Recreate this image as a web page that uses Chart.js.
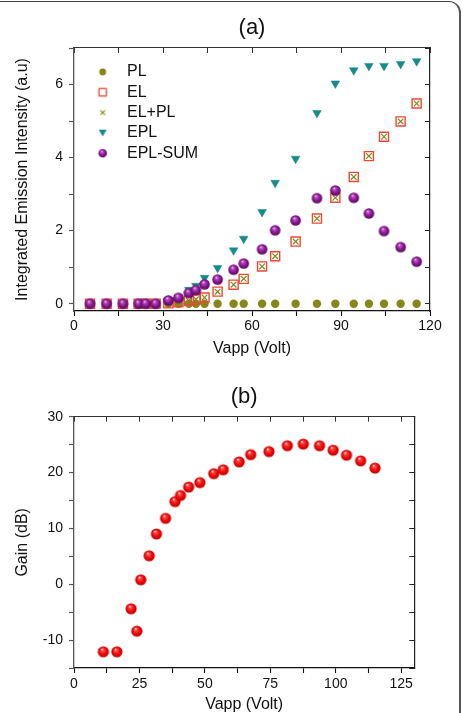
<!DOCTYPE html>
<html>
<head>
<meta charset="utf-8">
<script src="https://cdn.jsdelivr.net/npm/chart.js@4.4.0/dist/chart.umd.min.js"></script>
<style>
  body { margin: 0; background: #fff; }
  #wrap { position: relative; width: 463px; height: 713px; overflow: hidden; }
  .panel { position: absolute; left: 0; }
  #frame {
    position: absolute; left: -4px; top: 1px; width: 464.5px; height: 740px;
    box-sizing: border-box; border-top: 1.5px solid #444; border-right: 2px solid #555;
    border-top-right-radius: 12px;
  }
</style>
</head>
<body>
<div id="wrap">
  <canvas id="chartA" class="panel" style="top:0" width="463" height="362"></canvas>
  <canvas id="chartB" class="panel" style="top:362px" width="463" height="360"></canvas>
  <div id="frame"></div>
</div>
<script>
// (a) integrated emission intensity vs applied voltage
const vapp = [5.4, 11.0, 16.5, 21.8, 24.2, 27.5, 31.8, 35.2, 38.7, 41.1, 44.0, 48.4,
  53.8, 57.2, 63.4, 67.8, 74.7, 81.9, 88.1, 94.3, 99.4, 104.5, 110.1, 115.5];
const pl = [0, 0, 0, 0, 0, 0, 0, 0, 0, 0, 0, 0, 0, 0, 0, 0, 0, 0, 0, 0, 0, 0, 0, 0];
const el = [0, 0, 0, 0, 0, 0, 0.01, 0.04, 0.08, 0.12, 0.17, 0.33,
  0.52, 0.68, 1.02, 1.30, 1.70, 2.33, 2.90, 3.47, 4.04, 4.57, 4.99, 5.48];
const elPlusPl = [0, 0, 0, 0, 0, 0, 0.01, 0.04, 0.08, 0.12, 0.17, 0.33,
  0.52, 0.68, 1.02, 1.30, 1.70, 2.33, 2.90, 3.47, 4.04, 4.57, 4.99, 5.48];
const epl = [0, 0, 0, 0, 0, 0, 0.06, 0.17, 0.38, 0.49, 0.71, 0.98,
  1.46, 1.78, 2.51, 3.31, 3.97, 5.22, 6.03, 6.39, 6.51, 6.51, 6.56, 6.64];
const eplSum = [0, 0, 0, 0, 0, 0, 0.09, 0.16, 0.29, 0.37, 0.53, 0.66,
  0.93, 1.10, 1.49, 2.01, 2.28, 2.89, 3.10, 2.90, 2.47, 1.99, 1.55, 1.15];
const seriesNames = ['PL', 'EL', 'EL+PL', 'EPL', 'EPL-SUM'];

// (b) gain vs applied voltage
const gainVapp = [11.2, 16.4, 21.8, 24.0, 25.5, 28.7, 31.5, 35.0, 38.6, 40.7, 43.8, 48.1,
  53.4, 57.0, 63.1, 67.5, 74.5, 81.5, 87.6, 93.8, 99.0, 104.1, 109.5, 115.0];
const gainDb = [-12.1, -12.1, -4.4, -8.4, 0.8, 5.1, 9.0, 11.8, 14.8, 15.9, 17.4, 18.2,
  19.8, 20.5, 21.9, 23.2, 23.75, 24.8, 25.1, 24.8, 24.0, 23.1, 22.1, 20.8];

Chart.defaults.font.family = '"Liberation Sans", Arial, Helvetica, sans-serif';
Chart.defaults.color = '#111';
Chart.defaults.animation = false;

const OLIVE = '#86861a';
const RED = '#ea4a35';
const TEAL = '#178a8a';
const PURPLE_BALL = ['#ffe6ff', '#c050c8', '#8a1a92', '#56085c'];
const RED_BALL = ['#ffffff', '#ff4a4a', '#f50a0a', '#b80000'];

const pts = (xs, ys) => xs.map((x, i) => ({ x, y: ys[i] }));

function drawSphere(ctx, cx, cy, r, colors) {
  const g = ctx.createRadialGradient(cx - r * 0.25, cy - r * 0.45, r * 0.02, cx, cy, r);
  g.addColorStop(0, colors[0]);
  g.addColorStop(0.22, colors[1]);
  g.addColorStop(0.6, colors[2]);
  g.addColorStop(1, colors[3]);
  ctx.fillStyle = g;
  ctx.beginPath();
  ctx.arc(cx, cy, r, 0, Math.PI * 2);
  ctx.fill();
}

function sphereImage(r, colors) {
  const c = document.createElement('canvas');
  c.width = c.height = Math.ceil(r * 2 + 2);
  drawSphere(c.getContext('2d'), c.width / 2, c.height / 2, r, colors);
  return c;
}

const purpleBall = sphereImage(5.3, PURPLE_BALL);
const redBall = sphereImage(5.6, RED_BALL);

// legend icons, marker pushed right inside the image
const legendShift = 4;
function legendIcon(draw) {
  const c = document.createElement('canvas');
  c.width = 28;
  c.height = 16;
  draw(c.getContext('2d'), 14 + legendShift, 8);
  return c;
}
const legendIcons = [
  legendIcon((ctx, x, y) => {
    ctx.fillStyle = OLIVE;
    ctx.beginPath(); ctx.arc(x, y, 3.4, 0, Math.PI * 2); ctx.fill();
  }),
  legendIcon((ctx, x, y) => {
    ctx.strokeStyle = RED; ctx.lineWidth = 1.3;
    ctx.strokeRect(x - 3.7, y - 3.7, 7.4, 7.4);
  }),
  legendIcon((ctx, x, y) => {
    ctx.strokeStyle = OLIVE; ctx.lineWidth = 1.1;
    ctx.beginPath();
    ctx.moveTo(x - 2.4, y - 2.4); ctx.lineTo(x + 2.4, y + 2.4);
    ctx.moveTo(x + 2.4, y - 2.4); ctx.lineTo(x - 2.4, y + 2.4);
    ctx.stroke();
  }),
  legendIcon((ctx, x, y) => {
    ctx.fillStyle = TEAL;
    ctx.beginPath();
    ctx.moveTo(x - 4, y - 3.2); ctx.lineTo(x + 4, y - 3.2); ctx.lineTo(x, y + 3.6);
    ctx.closePath(); ctx.fill();
  }),
  legendIcon((ctx, x, y) => drawSphere(ctx, x, y, 4.3, PURPLE_BALL)),
];

function frameScales(c) {
  const tickFont = { size: 14 };
  return {
    x: {
      type: 'linear', position: 'bottom', min: c.x[0], max: c.x[1],
      border: { color: '#111', width: 1.3 },
      grid: { drawOnChartArea: false, tickLength: 5, tickColor: '#111', tickWidth: 1.1 },
      ticks: {
        stepSize: c.x[2], includeBounds: false, autoSkip: false, maxRotation: 0,
        padding: c.xPad, font: tickFont, color: '#111',
        callback: (v) => (v % c.x[3] === 0 ? v : ''),
      },
      title: { display: true, text: 'Vapp (Volt)', font: { size: 16 }, color: '#111',
        padding: { top: 0, bottom: c.xTitlePad } },
      afterFit: (s) => { s.height = c.bottom; },
    },
    y: {
      type: 'linear', position: 'left', min: c.y[0], max: c.y[1],
      border: { color: '#555', width: 1.3 },
      grid: { drawOnChartArea: false, tickLength: 5, tickColor: '#555', tickWidth: 1.1 },
      ticks: {
        stepSize: c.y[2], includeBounds: false, autoSkip: false,
        padding: 6, font: tickFont, color: '#111',
        callback: (v) => (v % c.y[3] === 0 ? v : ''),
      },
      title: { display: true, text: c.yTitle, font: { size: 16 }, color: '#111',
        padding: { top: c.yTitlePad, bottom: 0 } },
      afterFit: (s) => { s.width = 74; },
    },
    x2: {
      type: 'linear', position: 'top', min: c.x[0], max: c.x[1],
      border: { color: '#333', width: 1.1 },
      grid: { drawOnChartArea: false, tickLength: -5, tickColor: '#333', tickWidth: 1 },
      ticks: { display: false, stepSize: c.x[2], includeBounds: false },
      afterFit: (s) => { s.height = c.top; },
    },
    y2: {
      type: 'linear', position: 'right', min: c.y[0], max: c.y[1],
      border: { color: '#222', width: 1.2 },
      grid: { drawOnChartArea: false, tickLength: -5, tickColor: '#222', tickWidth: 1 },
      ticks: { display: false, stepSize: c.y[2], includeBounds: false },
      afterFit: (s) => { s.width = c.right; },
    },
  };
}

new Chart(document.getElementById('chartA'), {
  type: 'scatter',
  data: {
    datasets: [
      { label: 'PL', data: pts(vapp, pl), pointStyle: 'circle', pointRadius: 4.2,
        backgroundColor: OLIVE, borderColor: OLIVE, borderWidth: 0, order: 5 },
      { label: 'EL', data: pts(vapp, el), pointStyle: 'rect', pointRadius: 6.4,
        backgroundColor: 'rgba(0,0,0,0)', borderColor: RED, borderWidth: 1.4, order: 4 },
      { label: 'EL+PL', data: pts(vapp, elPlusPl), pointStyle: 'crossRot', pointRadius: 4,
        borderColor: OLIVE, borderWidth: 1.2, order: 3 },
      { label: 'EPL', data: pts(vapp, epl), pointStyle: 'triangle', pointRotation: 180,
        pointRadius: 5, backgroundColor: TEAL, borderColor: TEAL, borderWidth: 0.5, order: 2 },
      { label: 'EPL-SUM', data: pts(vapp, eplSum), pointStyle: purpleBall, order: 1 },
    ],
  },
  options: {
    responsive: false,
    layout: { padding: 0 },
    scales: frameScales({
      x: [0, 120, 15, 30], y: [-0.2, 7, 1, 2],
      yTitle: 'Integrated Emission Intensity (a.u)',
      top: 6.5, bottom: 51, right: 33, xPad: 1.5, xTitlePad: 4.1, yTitlePad: 12.9,
    }),
    plugins: {
      tooltip: { enabled: false },
      title: { display: true, text: '(a)', fullSize: false, color: '#111',
        font: { size: 22, weight: 'normal' }, padding: { top: 15.1, bottom: 0 } },
      legend: {
        position: 'chartArea', align: 'start',
        // empty legend title only pushes the entries down below the top axis
        title: { display: true, text: '', font: { size: 9.75 }, padding: { top: 48, bottom: 0 } },
        labels: {
          usePointStyle: true, pointStyleWidth: 40.7, padding: 4.3,
          font: { size: 16 }, color: '#111',
          generateLabels: () => seriesNames.map((text, i) => ({
            text, pointStyle: legendIcons[i], datasetIndex: i, hidden: false,
            fillStyle: 'rgba(0,0,0,0)', strokeStyle: 'rgba(0,0,0,0)', lineWidth: 0,
            fontColor: '#111',
          })),
        },
      },
    },
  },
});

new Chart(document.getElementById('chartB'), {
  type: 'scatter',
  data: {
    datasets: [
      { label: 'Gain', data: pts(gainVapp, gainDb), pointStyle: redBall },
    ],
  },
  options: {
    responsive: false,
    layout: { padding: 0 },
    scales: frameScales({
      x: [0, 130, 12.5, 25], y: [-15, 30, 5, 10],
      yTitle: 'Gain (dB)',
      top: 6.8, bottom: 54, right: 48.7, xPad: 3, xTitlePad: 7.4, yTitlePad: 13.4,
    }),
    plugins: {
      tooltip: { enabled: false },
      legend: { display: false },
      title: { display: true, text: '(b)', fullSize: false, color: '#111',
        font: { size: 22, weight: 'normal' }, padding: { top: 21.5, bottom: 0 } },
    },
  },
});
</script>
</body>
</html>
